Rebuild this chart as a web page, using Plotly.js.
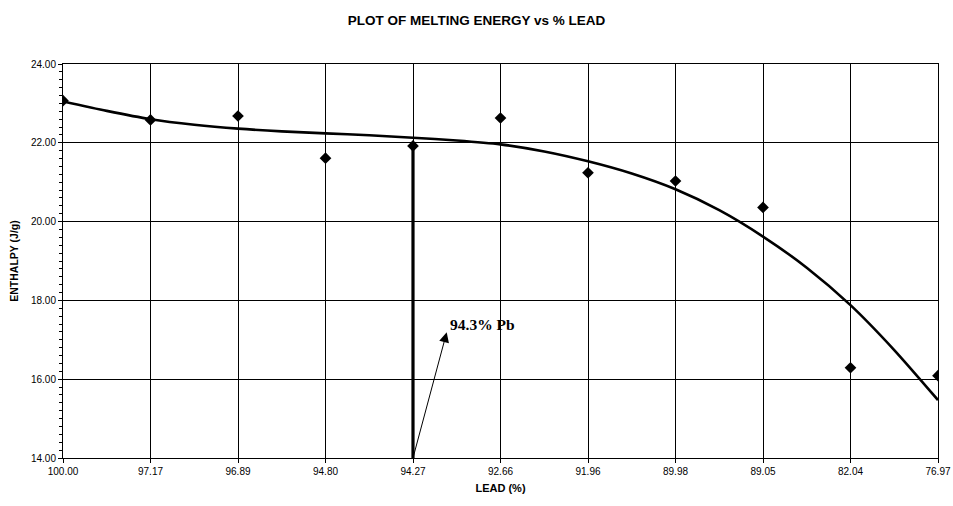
<!DOCTYPE html>
<html>
<head>
<meta charset="utf-8">
<script src="https://cdn.plot.ly/plotly-3.0.1.min.js"></script>
<style>html,body{margin:0;padding:0;background:#fff;}#chart{width:953px;height:506px;}</style>
</head>
<body>
<div id="chart"></div>
<script>
const leadLabels = ["100.00","97.17","96.89","94.80","94.27","92.66","91.96","89.98","89.05","82.04","76.97"];
const enthalpy   = [23.07, 22.58, 22.68, 21.61, 21.92, 22.63, 21.24, 21.03, 20.36, 16.29, 16.09];
// Trend curve at every half category step (position = category index)
const trendPos   = [0, 0.5, 1, 1.5, 2, 2.5, 3, 3.5, 4, 4.5, 5, 5.5, 6, 6.5, 7, 7.5, 8, 8.5, 9, 9.5, 10];
const trendCurve = [23.05, 22.81, 22.60, 22.46, 22.36, 22.29, 22.24, 22.19, 22.13, 22.06, 21.96,
                    21.78, 21.53, 21.22, 20.82, 20.29, 19.62, 18.83, 17.88, 16.74, 15.47];
const markerLabel = "94.27";
const markerTop = 21.92;
const yMin = 14, yMax = 24;

const font = "Liberation Sans, Arial, sans-serif";
const idx = leadLabels.map((_, i) => i);
const mIdx = leadLabels.indexOf(markerLabel);

const traces = [
  {
    x: trendPos, y: trendCurve, type: "scatter", mode: "lines",
    line: {color: "#000", width: 2.6, shape: "spline", smoothing: 0.7},
    hoverinfo: "skip", showlegend: false
  },
  {
    x: [mIdx, mIdx], y: [yMin, markerTop], type: "scatter", mode: "lines",
    line: {color: "#000", width: 3.2}, showlegend: false, hoverinfo: "skip"
  },
  {
    x: idx, y: enthalpy, type: "scatter", mode: "markers",
    marker: {symbol: "diamond", size: 9, color: "#000"},
    showlegend: false
  }
];

const layout = {
  width: 953, height: 506,
  margin: {l: 63, r: 15, t: 64, b: 48},
  paper_bgcolor: "#fff", plot_bgcolor: "#fff",
  font: {family: font, color: "#000", size: 10},
  title: {text: "<b>PLOT OF MELTING ENERGY vs % LEAD</b>", font: {family: font, size: 13.5, color: "#000"}, x: 0.5, xanchor: "center", y: 0.96, yanchor: "middle"},
  xaxis: {
    range: [0, leadLabels.length - 1],
    tickmode: "array", tickvals: idx, ticktext: leadLabels,
    showgrid: true, gridcolor: "#000", gridwidth: 1,
    showline: true, linecolor: "#000", linewidth: 1, mirror: true,
    ticks: "outside", ticklen: 4, tickcolor: "#000",
    tickfont: {family: font, size: 10, color: "#000"},
    zeroline: false,
    title: {text: "<b>LEAD (%)</b>", font: {family: font, size: 11, color: "#000"}, standoff: 8}
  },
  yaxis: {
    range: [yMin, yMax], dtick: 2, tickformat: ".2f",
    showgrid: true, gridcolor: "#000", gridwidth: 1,
    showline: true, linecolor: "#000", linewidth: 1, mirror: true,
    ticks: "outside", ticklen: 4, tickcolor: "#000",
    minor: {dtick: 0.2, ticks: "outside", ticklen: 3, tickcolor: "#000", showgrid: false},
    tickfont: {family: font, size: 10, color: "#000"},
    zeroline: false,
    title: {text: "<b>ENTHALPY (J/g)</b>", font: {family: font, size: 10.5, color: "#000"}, standoff: 10}
  },
  annotations: [
    {
      x: 4.385, y: 17.19, xref: "x", yref: "y",
      ax: mIdx, ay: yMin, axref: "x", ayref: "y",
      text: "", showarrow: true, arrowhead: 2, arrowsize: 2, arrowwidth: 1, arrowcolor: "#000"
    },
    {
      x: 4.4, y: 17.38, xref: "x", yref: "y", xanchor: "left", yanchor: "middle",
      text: "<b>94.3% Pb</b>", showarrow: false,
      font: {family: "Liberation Serif, Times New Roman, serif", size: 15.5, color: "#000"}
    }
  ]
};

Plotly.newPlot("chart", traces, layout, {displayModeBar: false, staticPlot: true});
</script>
</body>
</html>
